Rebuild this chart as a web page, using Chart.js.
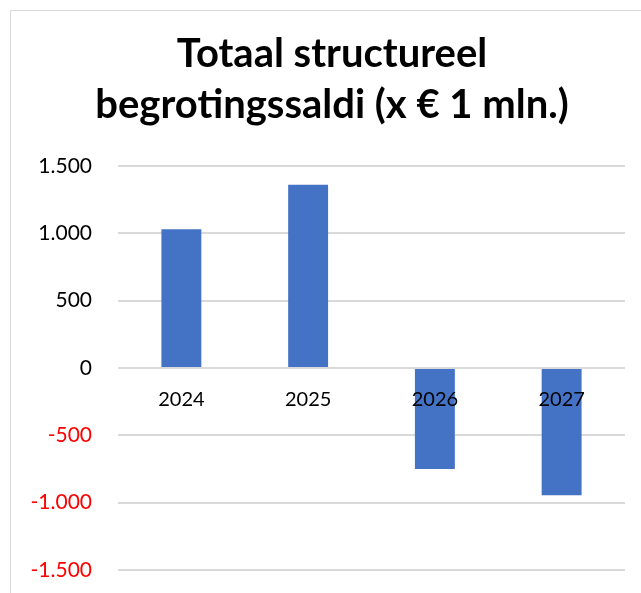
<!DOCTYPE html>
<html>
<head>
<meta charset="utf-8">
<script src="https://cdn.jsdelivr.net/npm/chart.js@4"></script>
<style>
  body { margin: 0; background: #fff; }
  #frame {
    position: absolute; left: 10px; top: 10px; width: 700px; height: 700px;
    border-left: 1px solid #d9d9d9; border-top: 1px solid #d9d9d9;
  }
  #wrap { position: absolute; left: 0; top: 0; width: 641px; height: 593px; }
</style>
</head>
<body>
<div id="frame"></div>
<div id="wrap"><canvas id="chart" width="641" height="593"></canvas></div>
<script>
const years  = ["2024", "2025", "2026", "2027"];
const saldi  = [1030, 1360, -750, -945];
const yTicks = [-1500, -1000, -500, 0, 500, 1000, 1500];
const titleLines = ["Totaal structureel", "begrotingssaldi (x € 1 mln.)"];

// 1500 -> "1.500"
function fmt(v) {
  const s = String(Math.abs(v)).replace(/\B(?=(\d{3})+(?!\d))/g, ".");
  return (v < 0 ? "-" : "") + s;
}

// title is centred on the whole chart object, not on the canvas, so draw it here
const titlePlugin = {
  id: "offsetTitle",
  afterDraw(chart) {
    const ctx = chart.ctx;
    ctx.save();
    ctx.font = "bold 40px Lato";
    ctx.fillStyle = "#000";
    ctx.textAlign = "center";
    ctx.textBaseline = "alphabetic";
    titleLines.forEach((t, i) => ctx.fillText(t, 332, 67 + i * 51));
    ctx.restore();
  }
};

// category labels sit just under the zero line, on top of the bars
const zeroLabels = {
  id: "zeroLabels",
  afterDatasetsDraw(chart) {
    const ctx = chart.ctx, x = chart.scales.x, y = chart.scales.y;
    const y0 = y.getPixelForValue(0) + 32;
    ctx.save();
    ctx.font = "20px Lato";
    ctx.fillStyle = "#000";
    ctx.textAlign = "center";
    ctx.textBaseline = "middle";
    years.forEach((t, i) => ctx.fillText(t, x.getPixelForValue(i), y0));
    ctx.restore();
  }
};

new Chart(document.getElementById("chart").getContext("2d"), {
  type: "bar",
  data: {
    labels: years,
    datasets: [{
      label: "Saldo",
      data: saldi,
      backgroundColor: "#4472C4",
      borderWidth: 0,
      barPercentage: 0.315,
      categoryPercentage: 1
    }]
  },
  options: {
    responsive: false,
    animation: false,
    layout: { padding: { left: 0, right: 16, top: 166, bottom: 23 } },
    plugins: {
      legend: { display: false },
      tooltip: { enabled: false },
      title: { display: false }
    },
    scales: {
      x: { display: false },
      y: {
        min: yTicks[0],
        max: yTicks[yTicks.length - 1],
        afterBuildTicks: axis => { axis.ticks = yTicks.map(v => ({ value: v })); },
        afterFit: axis => {
          axis.width = 118;
          axis.paddingTop = 0;
          axis.paddingBottom = 0;
        },
        grid: { color: "#d9d9d9", lineWidth: 2, drawTicks: false },
        border: { display: false },
        ticks: {
          padding: 26,
          font: { family: "Lato", size: 21 },
          color: ctx => ctx.tick.value < 0 ? "#ff0000" : "#000",
          callback: v => fmt(v)
        }
      }
    }
  },
  plugins: [titlePlugin, zeroLabels]
});
</script>
</body>
</html>
